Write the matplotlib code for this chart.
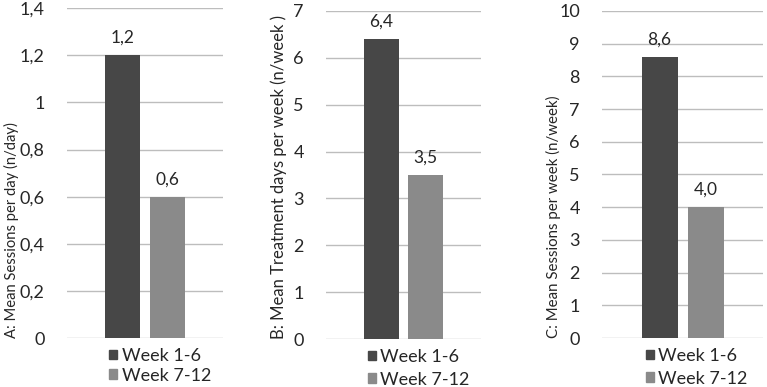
import matplotlib
matplotlib.use("Agg")
import matplotlib.pyplot as plt
from matplotlib.patches import Patch

plt.rcParams["font.family"] = ["Lato", "DejaVu Sans"]

# dados
periodos = ["Week 1-6", "Week 7-12"]
sessoes_dia = [1.2, 0.6]
dias_tratamento = [6.4, 3.5]
sessoes_semana = [8.6, 4.0]

rotulos_y = [
    "A: Mean Sessions per day (n/day)",
    "B: Mean Treatment days per week (n/week )",
    "C: Mean Sessions per week (n/week)",
]
limites_y = [1.4, 7, 10]
passos_y = [0.2, 1, 1]

cores = ["#474747", "#8a8a8a"]
cor_texto = "#262626"
cor_grade = "#bdbdbd"


def virgula(v, casas=None):
    if casas is None:
        s = f"{round(v, 6):g}"
    else:
        s = f"{v:.{casas}f}"
    return s.replace(".", ",")


fig = plt.figure(figsize=(7.67, 3.87), dpi=100)
posicoes = [
    [0.0874, 0.1266, 0.2034, 0.8524],
    [0.4250, 0.1240, 0.2020, 0.8476],
    [0.7850, 0.1266, 0.2100, 0.8450],
]
series = [sessoes_dia, dias_tratamento, sessoes_semana]
espaco_legenda = [0.2, 0.38, 0.38]
rotulo_x = [-0.353, -0.303, -0.304]
rotulo_tam = [10.6, 12, 10.8]

for pos, valores, rotulo, lim, passo, esp, rx, rt in zip(
        posicoes, series, rotulos_y, limites_y, passos_y, espaco_legenda,
        rotulo_x, rotulo_tam):
    ax = fig.add_axes(pos)
    xs = [0.357, 0.643]
    ax.bar(xs, valores, width=0.224, color=cores, zorder=3)
    for x, v in zip(xs, valores):
        ax.text(x, v + lim * 0.028, virgula(v, 1), ha="center", va="bottom",
                fontsize=12.5, color=cor_texto)

    n = int(round(lim / passo))
    ticks = [i * passo for i in range(n + 1)]
    ax.set_yticks(ticks)
    ax.set_yticklabels([virgula(t) for t in ticks], fontsize=13, color=cor_texto)
    ax.set_ylim(0, lim)
    ax.set_xlim(0, 1)
    ax.set_xticks([])
    ax.tick_params(axis="y", length=0, pad=16)
    for s in ax.spines.values():
        s.set_visible(False)
    ax.grid(axis="y", color=cor_grade, linewidth=1, zorder=0)
    ax.text(rx, 0.0, rotulo, transform=ax.transAxes, rotation=90,
            ha="center", va="bottom", fontsize=rt, color=cor_texto)

    handles = [Patch(color=c) for c in cores]
    ax.legend(handles, periodos, loc="upper left", bbox_to_anchor=(0.27, -0.03),
              frameon=False, borderaxespad=0, borderpad=0, handlelength=0.45,
              handleheight=0.45, handletextpad=0.25, labelspacing=esp,
              fontsize=13, labelcolor=cor_texto)

fig.savefig("out.png", dpi=100)
